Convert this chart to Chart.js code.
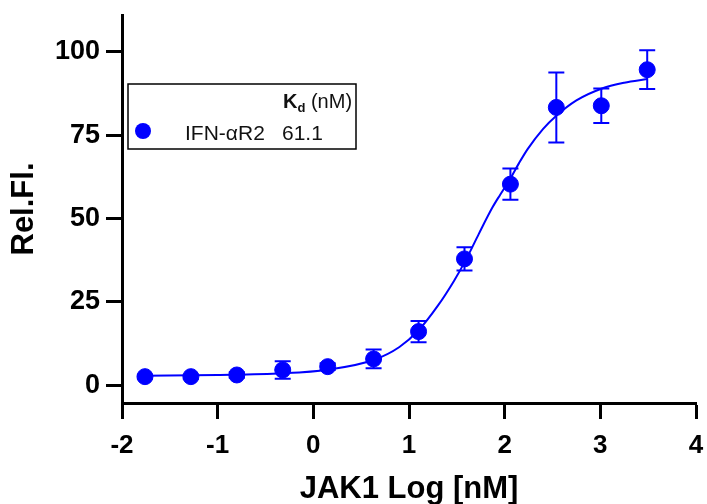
<!DOCTYPE html>
<html lang="en">
<head>
    <meta charset="UTF-8">
    <title>JAK1 binding curve</title>
    <script src="https://cdn.jsdelivr.net/npm/chart.js@4/dist/chart.umd.min.js"></script>
    <style>
        body { margin: 0; background: #fff; overflow: hidden; }
    </style>
</head>
<body>
    <canvas id="chart" width="707" height="504"></canvas>

    <script>
        // measured points (log nM), mean and error
        const logConc = [-1.76, -1.28, -0.80, -0.32, 0.15, 0.63, 1.10, 1.58, 2.06, 2.54, 3.01, 3.49];
        const relFl = [2.6, 2.6, 3.1, 4.6, 5.6, 7.9, 16.1, 37.9, 60.3, 83.3, 83.8, 94.6];
        const relFlErr = [0.6, 0.6, 0.8, 2.6, 1.0, 2.8, 3.2, 3.5, 4.7, 10.5, 5.2, 5.8];

        // fitted curve
        const fitX = [-1.76, -1.0, -0.32, 0.15, 0.63, 0.9, 1.1, 1.3, 1.47, 1.6, 1.73, 1.87, 1.95, 2.06, 2.15, 2.24, 2.4, 2.54, 2.75, 3.01, 3.25, 3.49];
        const fitY = [2.9, 3.1, 3.6, 4.7, 7.6, 11.5, 16.5, 23.8, 31.3, 37.9, 45.4, 53.2, 57.0, 62.0, 66.6, 70.8, 76.8, 80.8, 85.4, 88.9, 90.7, 91.8];

        const xTicks = [-2, -1, 0, 1, 2, 3, 4];
        const yTicks = [0, 25, 50, 75, 100];

        const seriesName = 'IFN-\u03b1R2';
        const kdValue = '61.1';

        const blue = '#0000ff';
        const fontFam = "'Liberation Sans', Arial, sans-serif";

        const errorBars = {
            id: 'errorBars',
            beforeDatasetsDraw(chart) {
                const c = chart.ctx, xs = chart.scales.x, ys = chart.scales.y;
                c.save();
                c.strokeStyle = blue;
                c.lineWidth = 2;
                logConc.forEach((x, i) => {
                    const px = xs.getPixelForValue(x);
                    const top = ys.getPixelForValue(relFl[i] + relFlErr[i]);
                    const bot = ys.getPixelForValue(relFl[i] - relFlErr[i]);
                    c.beginPath();
                    c.moveTo(px, top); c.lineTo(px, bot);
                    c.moveTo(px - 8, top); c.lineTo(px + 8, top);
                    c.moveTo(px - 8, bot); c.lineTo(px + 8, bot);
                    c.stroke();
                });
                c.restore();
            }
        };

        const kdLegend = {
            id: 'kdLegend',
            afterDraw(chart) {
                const c = chart.ctx, a = chart.chartArea;
                const bx = a.left + 6, by = a.top + 69;
                c.save();
                c.strokeStyle = '#000';
                c.lineWidth = 1.5;
                c.strokeRect(bx, by, 228, 65);

                c.fillStyle = '#111';
                c.textBaseline = 'alphabetic';
                c.font = 'bold 20px ' + fontFam;
                c.fillText('K', bx + 155, by + 24);
                let w = c.measureText('K').width;
                c.font = 'bold 13px ' + fontFam;
                c.fillText('d', bx + 155 + w, by + 28);
                w += c.measureText('d').width;
                c.font = '20px ' + fontFam;
                c.fillText(' (nM)', bx + 155 + w, by + 24);

                c.font = '21px ' + fontFam;
                c.fillText(seriesName, bx + 57, by + 56);
                c.fillText(kdValue, bx + 154, by + 56);

                c.fillStyle = blue;
                c.beginPath();
                c.arc(bx + 15, by + 47, 8, 0, Math.PI * 2);
                c.fill();
                c.restore();
            }
        };

        const ctx = document.getElementById('chart').getContext('2d');
        new Chart(ctx, {
            type: 'scatter',
            data: {
                datasets: [{
                    data: logConc.map((x, i) => ({ x: x, y: relFl[i] })),
                    backgroundColor: blue,
                    borderColor: blue,
                    pointRadius: 8,
                    pointHoverRadius: 8,
                    order: 0
                }, {
                    data: fitX.map((x, i) => ({ x: x, y: fitY[i] })),
                    showLine: true,
                    borderColor: blue,
                    borderWidth: 2,
                    pointRadius: 0,
                    cubicInterpolationMode: 'monotone',
                    fill: false,
                    order: 1
                }]
            },
            options: {
                responsive: false,
                animation: false,
                layout: { padding: { left: 0, right: 11, top: 15, bottom: 0 } },
                plugins: { legend: { display: false }, tooltip: { enabled: false } },
                scales: {
                    x: {
                        type: 'linear',
                        min: -2,
                        max: 4,
                        afterBuildTicks: s => { s.ticks = xTicks.map(v => ({ value: v })); },
                        afterFit: s => { s.height = 101; s.paddingLeft = 0; s.paddingRight = 0; },
                        grid: { drawOnChartArea: false, drawTicks: true, tickLength: 16, tickWidth: 3, tickColor: '#000' },
                        border: { display: true, color: '#000', width: 3 },
                        ticks: { color: '#000', padding: 11, autoSkip: false, maxRotation: 0,
                                 font: { family: fontFam, size: 26, weight: 'bold' } },
                        title: { display: true, text: 'JAK1 Log [nM]', color: '#000', padding: { top: 0, bottom: 0 },
                                 font: { family: fontFam, size: 31, weight: 'bold', lineHeight: 0.95 } }
                    },
                    y: {
                        min: -5.3,
                        max: 111,
                        afterBuildTicks: s => { s.ticks = yTicks.map(v => ({ value: v })); },
                        afterFit: s => { s.width = 122; s.paddingTop = 0; s.paddingBottom = 0; },
                        grid: { drawOnChartArea: false, drawTicks: true, tickLength: 16, tickWidth: 3, tickColor: '#000' },
                        border: { display: true, color: '#000', width: 3 },
                        ticks: { color: '#000', padding: 6, autoSkip: false,
                                 font: { family: fontFam, size: 27, weight: 'bold' } },
                        title: { display: true, text: 'Rel.Fl.', color: '#000', padding: { top: 6, bottom: 0 },
                                 font: { family: fontFam, size: 31, weight: 'bold' } }
                    }
                }
            },
            plugins: [errorBars, kdLegend]
        });
    </script>
</body>
</html>
